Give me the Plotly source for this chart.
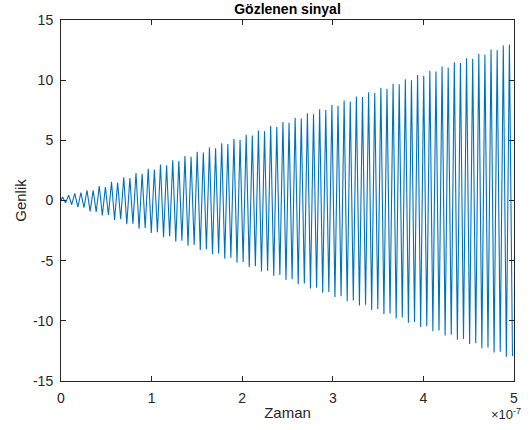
import numpy as np
import plotly.graph_objects as go

# Extremum values (one peak and one trough per cycle)
peak_values = [0.30, 0.45, 0.60, 0.65, 0.85, 0.85, 1.20, 1.12, 1.55, 1.50,
               1.92, 1.86, 2.28, 2.22, 2.64, 2.58, 2.99, 2.93, 3.35, 3.28,
               3.70, 3.64, 4.05, 3.99, 4.41, 4.35, 4.76, 4.70, 5.12, 5.05,
               5.47, 5.41, 5.82, 5.76, 6.18, 6.11, 6.53, 6.47, 6.88, 6.82,
               7.24, 7.17, 7.59, 7.53, 7.94, 7.88, 8.30, 8.23, 8.65, 8.59,
               9.00, 8.94, 9.36, 9.29, 9.71, 9.65, 10.07, 10.00, 10.42, 10.36,
               10.77, 10.71, 11.13, 11.06, 11.48, 11.42, 11.83, 11.77, 12.19, 12.12,
               12.54, 12.48, 12.89, 12.95]
trough_values = [-0.20, -0.35, -0.55, -0.60, -0.90, -0.95, -1.25, -1.20, -1.62, -1.55,
                 -1.98, -1.92, -2.34, -2.28, -2.70, -2.64, -3.05, -2.99, -3.41, -3.35,
                 -3.76, -3.70, -4.12, -4.05, -4.47, -4.41, -4.83, -4.76, -5.18, -5.12,
                 -5.54, -5.47, -5.89, -5.83, -6.25, -6.18, -6.60, -6.54, -6.96, -6.89,
                 -7.31, -7.25, -7.67, -7.60, -8.02, -7.96, -8.38, -8.31, -8.73, -8.67,
                 -9.09, -9.02, -9.44, -9.38, -9.80, -9.73, -10.15, -10.09, -10.51, -10.44,
                 -10.86, -10.80, -11.22, -11.15, -11.57, -11.51, -11.93, -11.86, -12.28, -12.22,
                 -12.64, -12.57, -12.99, -12.93]
t_start = 0.0
t_end = 5e-7
x_tick_values = [0, 1e-7, 2e-7, 3e-7, 4e-7, 5e-7]
x_tick_labels = ["0", "1", "2", "3", "4", "5"]
y_tick_values = [-15, -10, -5, 0, 5, 10, 15]
y_tick_labels = ["-15", "-10", "-5", "0", "5", "10", "15"]

n_cycles = len(peak_values)
period = (t_end - t_start) / n_cycles
y = [0.0]
t = [t_start]
for k in range(n_cycles):
    y.append(peak_values[k])
    t.append(t_start + (k + 0.25) * period)
    y.append(trough_values[k])
    t.append(t_start + (k + 0.75) * period)

font_family = "Liberation Sans, Arial, sans-serif"
fig = go.Figure(go.Scatter(x=t, y=y, mode="lines",
                           line=dict(color="#0072BD", width=1.1),
                           showlegend=False, hoverinfo="skip"))

axis_common = dict(showgrid=False, zeroline=False, showline=True, linecolor="#262626",
                   linewidth=1, mirror="ticks", ticks="inside", ticklen=5,
                   tickcolor="#262626", ticklabelstandoff=4,
                   tickfont=dict(family=font_family, size=14, color="#262626"))
fig.update_xaxes(range=[t_start, t_end], tickvals=x_tick_values, ticktext=x_tick_labels,
                 title=dict(text="Zaman", font=dict(family=font_family, size=15, color="#262626"),
                            standoff=2), **axis_common)
fig.update_yaxes(range=[-15, 15], tickvals=y_tick_values, ticktext=y_tick_labels,
                 title=dict(text="Genlik", font=dict(family=font_family, size=15, color="#262626"),
                            standoff=2), **axis_common)
fig.update_layout(
    width=531, height=430,
    margin=dict(l=61, r=17, t=18, b=49),
    paper_bgcolor="white", plot_bgcolor="white",
    title=dict(text="<b>Gözlenen sinyal</b>", xref="paper", x=0.5, xanchor="center",
               y=0.991, yanchor="top",
               font=dict(family=font_family, size=14, color="black")),
    annotations=[dict(text="×10<sup>-7</sup>", xref="paper", yref="paper", x=1.02, y=-0.092,
                      xanchor="right", yanchor="middle", showarrow=False,
                      font=dict(family=font_family, size=13, color="#262626"))],
)
fig.write_html("out.html")
